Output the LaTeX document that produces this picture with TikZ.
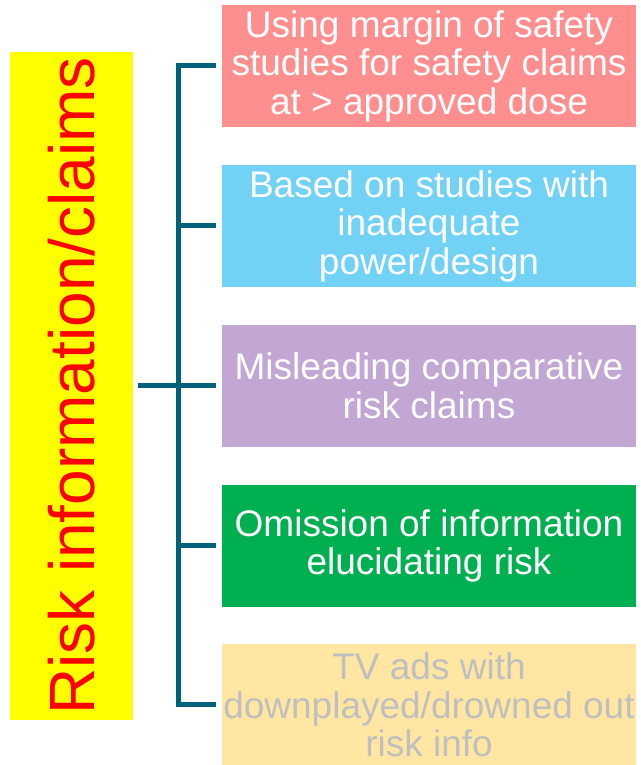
\documentclass[tikz,border=0pt]{standalone}
\usepackage{fontspec}
\setmainfont{Liberation Sans}
\usepackage{tikz}

\definecolor{linkblue}{HTML}{00617A}
\definecolor{boxred}{HTML}{FF8F8F}
\definecolor{boxblue}{HTML}{72D2F5}
\definecolor{boxlilac}{HTML}{C2A6D4}
\definecolor{boxgreen}{HTML}{00B050}
\definecolor{boxsand}{HTML}{FFE6A3}
\definecolor{boxgrey}{HTML}{BFBFBF}
\definecolor{topicyellow}{RGB}{255,255,0}

\tikzset{
  claim/.style={minimum width=414pt, minimum height=122pt, inner sep=0pt,
    align=center, text=white, font=\fontsize{37}{38.5}\selectfont},
  link/.style={draw=linkblue, line width=5pt}
}

\begin{document}
\begin{tikzpicture}[x=1pt,y=1pt]
      \useasboundingbox (0,0) rectangle (640,765);
      \node[fill=topicyellow, minimum width=668pt, minimum height=123pt, inner sep=0pt,
        text=red, rotate=90, font=\fontsize{64}{70}\selectfont] at (71.5,379) (risk){Risk information/claims};
      \node[claim, fill=boxred] at (429,699) (b1){Using margin of safety\\studies for safety claims\\at > approved dose};
      \node[claim, fill=boxblue] at (429,539) (b2){Based on studies with\\inadequate\\power/design};
      \node[claim, fill=boxlilac] at (429,379) (b3){Misleading comparative\\risk claims};
      \node[claim, fill=boxgreen] at (429,219) (b4){Omission of information\\elucidating risk};
      \node[claim, fill=boxsand, text=boxgrey] at (429,60) (b5){TV ads with\\downplayed/drowned out\\risk info};
      \coordinate (hub) at (178,379);
      \draw[link] ([xshift=5pt]risk.south) -- (hub);
      \foreach \b in {b1,b2,b3,b4,b5}
        \draw[link] (hub) |- ([xshift=-6pt]\b.west);
    \end{tikzpicture}
\end{document}
